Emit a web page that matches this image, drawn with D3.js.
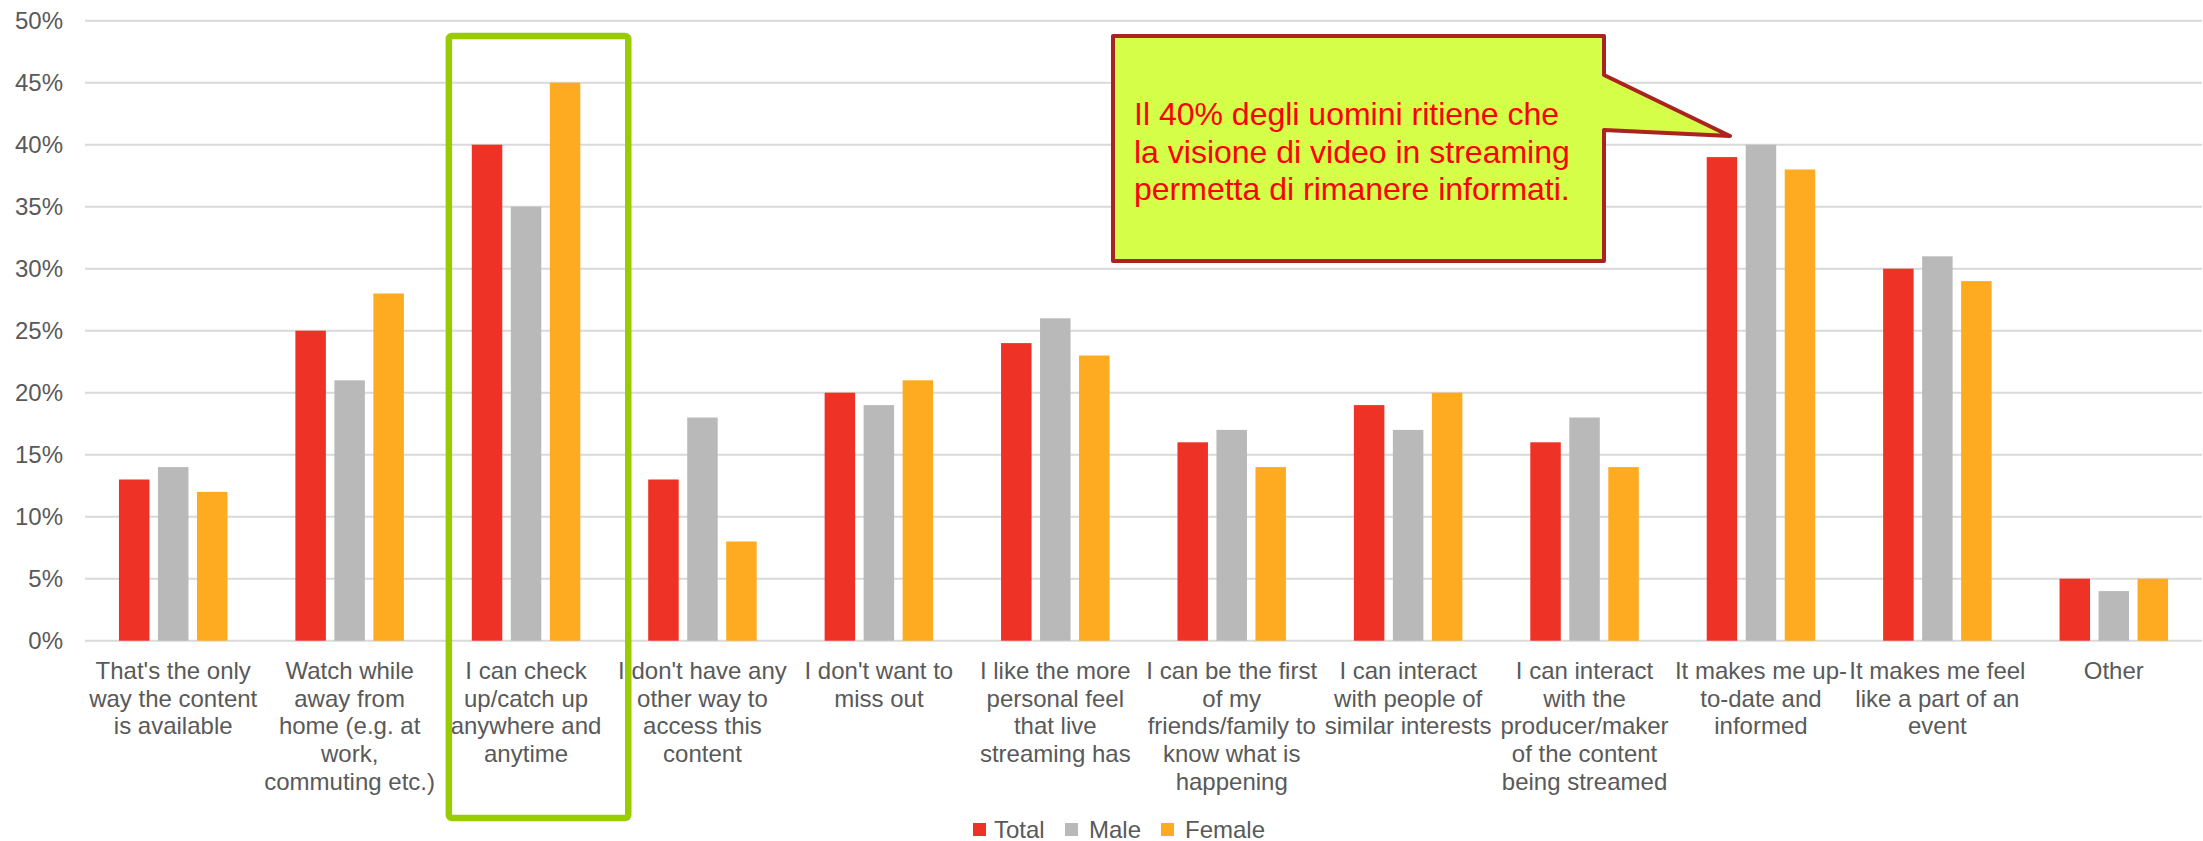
<!DOCTYPE html>
<html>
<head>
<meta charset="utf-8">
<script src="https://cdn.jsdelivr.net/npm/d3@7/dist/d3.min.js"></script>
<style>
  html, body { margin: 0; padding: 0; background: #fff; }
  svg { display: block; font-family: "Liberation Sans", Arial, sans-serif; }
</style>
</head>
<body>
<svg id="chart" width="2203" height="841"></svg>
<script>
// ---- data ----
const categories = [
  "That's the only\nway the content\nis available",
  "Watch while\naway from\nhome (e.g. at\nwork,\ncommuting etc.)",
  "I can check\nup/catch up\nanywhere and\nanytime",
  "I don't have any\nother way to\naccess this\ncontent",
  "I don't want to\nmiss out",
  "I like the more\npersonal feel\nthat live\nstreaming has",
  "I can be the first\nof my\nfriends/family to\nknow what is\nhappening",
  "I can interact\nwith people of\nsimilar interests",
  "I can interact\nwith the\nproducer/maker\nof the content\nbeing streamed",
  "It makes me up-\nto-date and\ninformed",
  "It makes me feel\nlike a part of an\nevent",
  "Other"
];
const seriesNames = ["Total", "Male", "Female"];
const total  = [0.13, 0.25, 0.40, 0.13, 0.20, 0.24, 0.16, 0.19, 0.16, 0.39, 0.30, 0.05];
const male   = [0.14, 0.21, 0.35, 0.18, 0.19, 0.26, 0.17, 0.17, 0.18, 0.40, 0.31, 0.04];
const female = [0.12, 0.28, 0.45, 0.08, 0.21, 0.23, 0.14, 0.20, 0.14, 0.38, 0.29, 0.05];
const yTicks = [0, 0.05, 0.10, 0.15, 0.20, 0.25, 0.30, 0.35, 0.40, 0.45, 0.50];
const calloutLines = [
  "Il 40% degli uomini ritiene che",
  "la visione di video in streaming",
  "permetta di rimanere informati."
];

const seriesValues = { Total: total, Male: male, Female: female };
const colors = { Total: "#EE3326", Male: "#B9B9B9", Female: "#FEAB22" };

// ---- layout ----
const svg = d3.select("#chart");
const plotL = 85, plotR = 2202, plotT = 20.7, plotB = 640.7;

const x0 = d3.scaleBand().domain(d3.range(categories.length)).range([plotL, plotR]).padding(0);
const groupW = 108.5;
const x1 = d3.scaleBand().domain(seriesNames).range([-groupW / 2, groupW / 2])
  .paddingInner(0.218).paddingOuter(0);
const y = d3.scaleLinear().domain([0, 0.5]).range([plotB, plotT]);
const cx = i => x0(i) + x0.bandwidth() / 2;

// gridlines
svg.append("g").selectAll("line").data(yTicks).join("line")
  .attr("x1", plotL).attr("x2", plotR)
  .attr("y1", d => y(d)).attr("y2", d => y(d))
  .attr("stroke", "#D9D9D9").attr("stroke-width", 2);

// y axis labels
const yAxis = d3.axisLeft(y).tickValues(yTicks).tickFormat(d3.format(".0%")).tickSize(0).tickPadding(0);
const yg = svg.append("g").attr("transform", `translate(${63},0)`).call(yAxis);
yg.select(".domain").remove();
yg.selectAll("text").attr("font-size", 24).attr("fill", "#595959")
  .attr("font-family", "Liberation Sans, Arial, sans-serif");

// bars
const rows = categories.map((c, i) => ({ i, vals: seriesNames.map(s => ({ s, v: seriesValues[s][i] })) }));
const groups = svg.append("g").selectAll("g").data(rows).join("g")
  .attr("transform", d => `translate(${cx(d.i)},0)`);
groups.selectAll("rect").data(d => d.vals).join("rect")
  .attr("x", d => x1(d.s))
  .attr("width", x1.bandwidth())
  .attr("y", d => y(d.v))
  .attr("height", d => y(0) - y(d.v))
  .attr("fill", d => colors[d.s]);

// category labels
const lab = svg.append("g").selectAll("text").data(categories).join("text")
  .attr("text-anchor", "middle")
  .attr("font-size", 24).attr("fill", "#595959");
lab.each(function (d, i) {
  const t = d3.select(this);
  d.split("\n").forEach((line, k) => {
    t.append("tspan").attr("x", cx(i)).attr("y", 679 + k * 27.7).text(line);
  });
});

// highlight box around category 2
svg.append("rect")
  .attr("x", x0(2) + 11).attr("y", 36)
  .attr("width", x0.bandwidth() + 3).attr("height", 818 - 36)
  .attr("rx", 3)
  .attr("fill", "none").attr("stroke", "#99CC00").attr("stroke-width", 6.5);

// callout
const bx0 = 1113, bx1 = 1604, by0 = 36, by1 = 261;
const tipX = 1730, tipY = 136;
const path = `M${bx0},${by0} H${bx1} V${75} L${tipX},${tipY} L${bx1},${130} V${by1} H${bx0} Z`;
svg.append("path").attr("d", path)
  .attr("fill", "#D4FE48").attr("stroke", "#AA231E").attr("stroke-width", 4)
  .attr("stroke-linejoin", "round");
svg.append("g").selectAll("text").data(calloutLines).join("text")
  .attr("x", 1134).attr("y", (d, k) => 125 + k * 37.5)
  .attr("font-size", 32).attr("fill", "#FF0000")
  .text(d => d);

// legend
const leg = svg.append("g").selectAll("g").data(seriesNames).join("g")
  .attr("transform", (d, k) => `translate(${[973, 1065, 1161][k]},823)`);
leg.append("rect").attr("width", 13).attr("height", 13).attr("fill", d => colors[d]);
leg.append("text").attr("x", (d, k) => [21, 24, 24][k]).attr("y", 14.5).attr("font-size", 24).attr("fill", "#595959").text(d => d);
</script>
</body>
</html>
